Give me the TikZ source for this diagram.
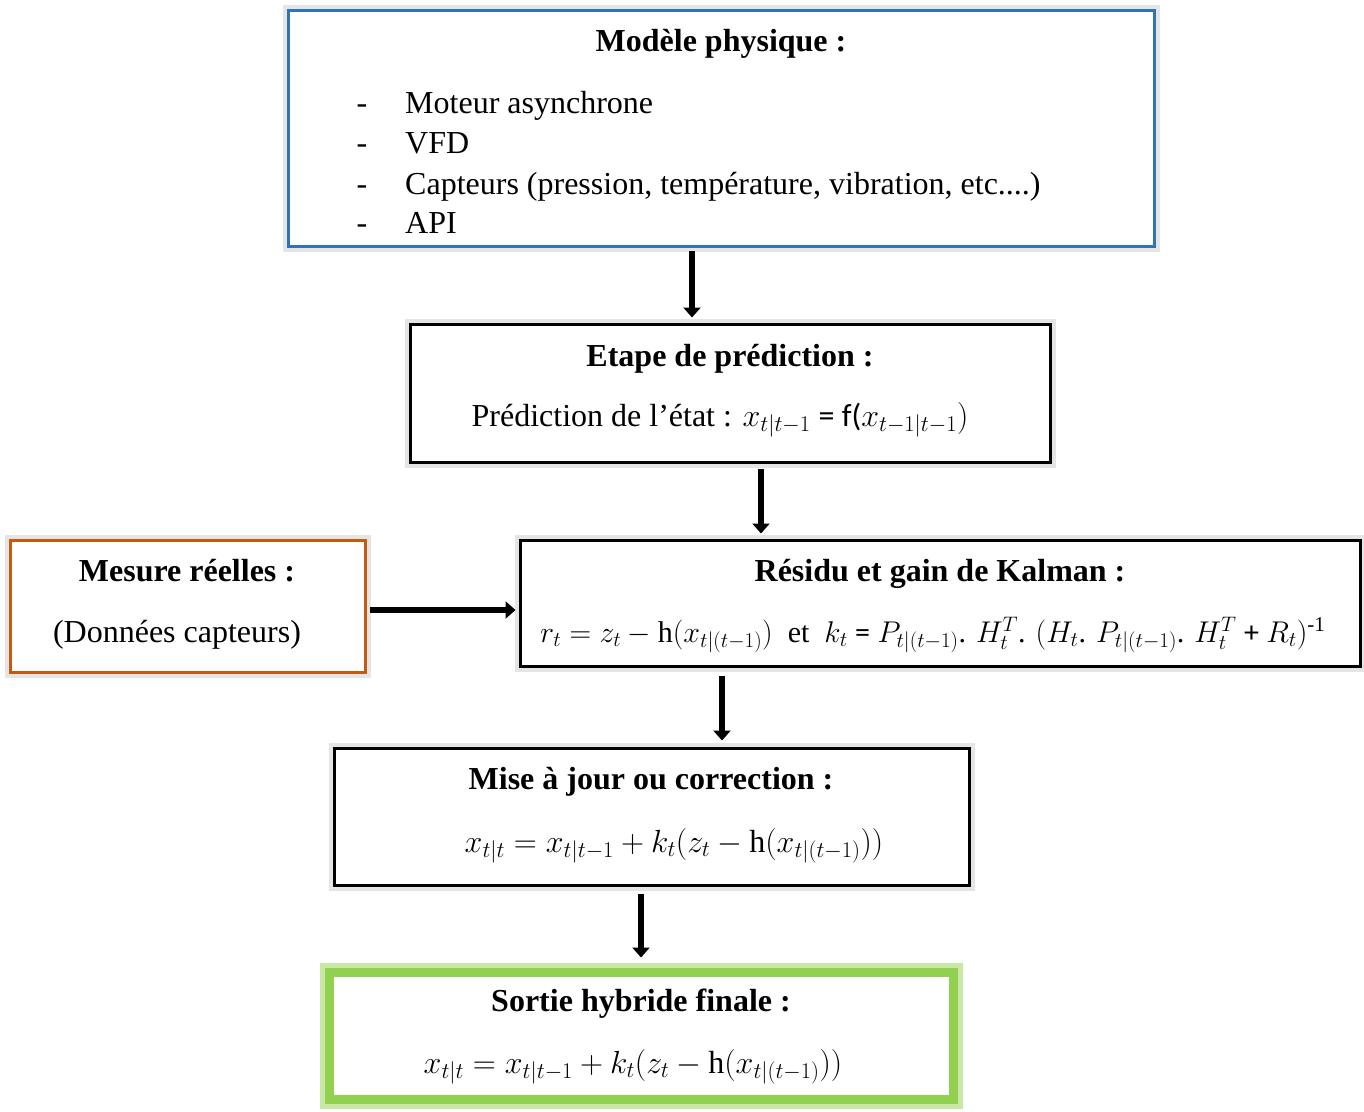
\RequirePackage{fix-cm}
\documentclass[tikz,border=0pt]{standalone}
\usepackage{amsmath}
\usepackage{fontspec}
\setmainfont{Liberation Serif}
\newfontfamily\calibri{Carlito}
\usetikzlibrary{arrows.meta}
\definecolor{bblue}{HTML}{2E75B6}
\definecolor{borange}{HTML}{C55A11}
\definecolor{bgreen}{HTML}{92D050}
\definecolor{lgreen}{HTML}{C9E8A8}
\begin{document}
\begin{tikzpicture}[x=1pt,y=-1pt]
\tikzset{
 box/.style={draw=black, line width=3pt, fill=white, rectangle, inner sep=0pt,
   preaction={draw=black!10, line width=11pt}},
 gbox/.style={draw=bgreen, line width=9pt, fill=white, rectangle, inner sep=0pt,
   preaction={draw=lgreen, line width=19pt}},
 txt/.style={font=\fontsize{32}{38}\selectfont, inner sep=0pt},
 stxt/.style={font=\fontsize{30}{36}\selectfont, inner sep=0pt},
 ttl/.style={font=\fontsize{32}{38}\selectfont\bfseries, inner sep=0pt},
 arr/.style={line width=6pt, -{Triangle[width=17pt,length=10pt]}}
}
\useasboundingbox (0,0) rectangle (1364,1111);
% boxes
\node[box, draw=bblue, minimum width=866pt, minimum height=236pt] (b1) at (721.5,128.5) {};
\node[box, minimum width=640pt, minimum height=138pt] (b2) at (730,393) {};
\node[box, minimum width=840pt, minimum height=126pt] (b3) at (940,603) {};
\node[box, draw=borange, minimum width=355pt, minimum height=132pt] (b4) at (187.5,606) {};
\node[box, minimum width=635pt, minimum height=137pt] (b5) at (651.5,816.5) {};
\node[gbox, minimum width=624pt, minimum height=127pt] (b6) at (641,1035.5) {};
% texts box 1
\node[ttl, anchor=base] (t1) at (721,51) {Modèle physique :};
\node[txt, anchor=base] (d1) at (362,113) {-};
\node[txt, anchor=base] (d2) at (362,153) {-};
\node[txt, anchor=base] (d3) at (362,194) {-};
\node[txt, anchor=base] (d4) at (362,233) {-};
\node[txt, anchor=base west] (l1) at (405,113) {Moteur asynchrone};
\node[txt, anchor=base west] (l2) at (405,153) {VFD};
\node[txt, anchor=base west] (l3) at (405,194) {Capteurs (pression, température, vibration, etc....)};
\node[txt, anchor=base west] (l4) at (405,233) {API};
% box 2
\node[ttl, anchor=base] (t2) at (730,366) {Etape de prédiction :};
\node[txt, anchor=base] (f2) at (720,426) {Prédiction de l’état : $x_{t|t-1}$ {\calibri = f(}$x_{t-1|t-1})$};
% box 3
\node[ttl, anchor=base] (t3) at (940,581) {Résidu et gain de Kalman :};
\node[stxt, anchor=base west] (f3) at (540,642) {$r_t = z_t - \mathrm{h}(x_{t|(t-1)})$\ \ et\ \ $k_t$ {\calibri =} $P_{t|(t-1)}$. $H_t^T$. $(H_t$. $P_{t|(t-1)}$. $H_t^T$ {\calibri +} $R_t)$\textsuperscript{-1}};
% box 4
\node[ttl, anchor=base] (t4) at (187,581) {Mesure réelles :};
\node[txt, anchor=base] (f4) at (177,642) {(Données capteurs)};
% box 5
\node[ttl, anchor=base] (t5) at (651,789) {Mise à jour ou correction :};
\node[txt, anchor=base] (f5) at (674,852) {$x_{t|t} = x_{t|t-1} + k_t(z_t - \mathrm{h}(x_{t|(t-1)}))$};
% box 6
\node[ttl, anchor=base] (t6) at (641,1011) {Sortie hybride finale :};
\node[txt, anchor=base] (f6) at (633,1073) {$x_{t|t} = x_{t|t-1} + k_t(z_t - \mathrm{h}(x_{t|(t-1)}))$};
% arrows
\coordinate (c1) at (692,0);
\coordinate (c2) at (761,0);
\coordinate (c3) at (722,0);
\coordinate (c4) at (641,0);
\coordinate (c5) at (0,610);
\draw[arr, shorten <=3pt, shorten >=5pt] (b1.south -| c1) -- (b2.north -| c1);
\draw[arr, shorten <=5pt, shorten >=5pt] (b2.south -| c2) -- (b3.north -| c2);
\draw[arr, shorten <=3pt, shorten >=3pt] (b4.east |- c5) -- (b3.west |- c5);
\draw[arr, shorten <=8pt, shorten >=6pt] (b3.south -| c3) -- (b5.north -| c3);
\draw[arr, shorten <=7pt, shorten >=10pt] (b5.south -| c4) -- (b6.north -| c4);
\end{tikzpicture}
\end{document}
